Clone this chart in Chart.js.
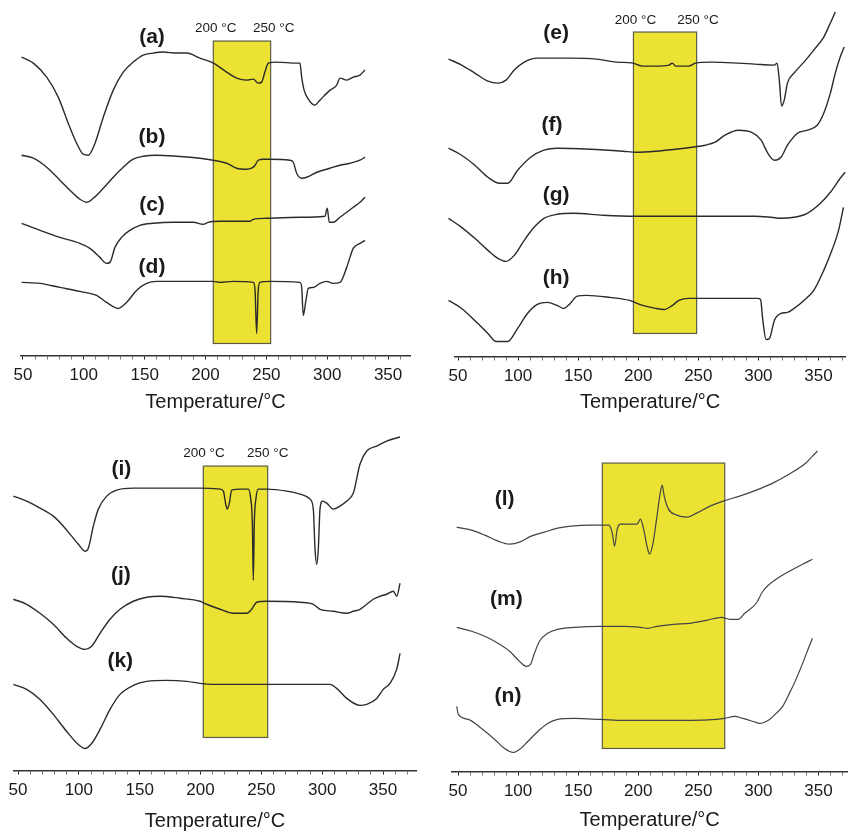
<!DOCTYPE html>
<html>
<head>
<meta charset="utf-8">
<script src="https://cdn.jsdelivr.net/npm/chart.js@4"></script>
<style>
html,body{margin:0;padding:0;background:#fff;}
#wrap{position:relative;width:850px;height:832px;overflow:hidden;}
canvas{position:absolute;}
</style>
</head>
<body>
<div id="wrap">
<canvas id="p1" width="425" height="416" style="left:0;top:0"></canvas>
<canvas id="p2" width="425" height="416" style="left:425px;top:0"></canvas>
<canvas id="p3" width="425" height="416" style="left:0;top:416px"></canvas>
<canvas id="p4" width="425" height="416" style="left:425px;top:416px"></canvas>
</div>
<script>
// ---- Data: [temperature °C, heat-flow (arbitrary, offset) ] ----
// Panel 1
const curveA = [[48.9,298],[58.5,292],[69.5,278],[79,258],[87.2,232],[94.1,212],[99.5,201],[103.7,200],[109.2,212],[116,238],[124.2,265],[132.4,283],[140.6,293],[148.8,300],[157.1,302],[165.3,303],[176.3,302],[184.5,302],[195.4,297],[206.4,292],[217.4,283],[225.6,277],[233.8,275],[239.3,276],[243.3,272],[246.1,273],[248.8,283],[251.6,292],[258.5,293],[274.9,292],[277.6,292],[279,278],[281,265],[284.4,256],[289.9,250],[294,255],[302.3,265],[307.8,270],[310.5,277],[316,275],[321.4,278],[326.9,280],[331,285]];
const curveB = [[48.9,200],[58.5,197],[69.5,188],[80.4,175],[88.6,165],[96.8,156],[102.3,153],[107.8,157],[116,167],[124.2,178],[132.4,188],[140.6,196],[148.8,199],[159.8,200],[176.3,199],[195.4,197],[206.4,195],[217.4,192],[225.6,187],[233.8,186],[237.9,187],[240.7,190],[243.3,195],[247.4,196],[253,196],[269.3,195],[272.1,193],[274.9,182],[279,177],[283.1,178],[291.4,183],[302.3,187],[310.5,190],[318.8,192],[326.9,195],[331,198]];
const curveC = [[48.9,132],[64,125],[80.4,118],[96.8,112],[105,107],[113.3,98],[118.7,92],[121.5,93],[125.6,108],[131,118],[137.9,125],[146.1,130],[157.1,132],[173.5,133],[189.9,133],[198.1,131],[202.2,133],[211.8,134],[228.3,134],[236.5,134],[239.3,136],[250.2,137],[277.6,138],[298.1,139],[300,147],[301.7,133],[304.9,133],[310.5,138],[321.4,148],[326.9,153],[331,158]];
const curveD = [[48.9,73],[64,72],[80.4,68],[96.8,64],[110.5,60],[118.7,53],[128.3,47],[135.1,53],[143.3,65],[151.5,72],[159.8,74],[184.5,74],[206.4,74],[211.8,73],[222.8,74],[239.3,73],[240.7,65],[242,22],[243.3,65],[244.7,73],[253,74],[277.6,73],[279,68],[280.3,40],[282.5,55],[284.4,67],[288.6,68],[294,72],[299.5,74],[304.9,72],[310.5,73],[316,88],[321.4,107],[326.9,112],[331,115]];
const box1 = [206.4, 253.5, 12, 314];
const labels1 = [['(a)',156,318],['(b)',156,218],['(c)',156,150],['(d)',156,88]];
const marks1 = [['200 °C',208.4,327],['250 °C',256,327]];

// Panel 2
const curveE = [[42.1,297],[53,291],[64,283],[74.9,275],[83.2,273],[90,276],[96.8,286],[105.1,294],[116,298],[127,298],[143.4,298],[165.3,297],[181.8,294],[195.5,293],[203.7,290],[214.6,290],[225.6,291],[228.4,293],[231.1,290],[242.1,290],[247.5,293],[261.2,294],[283.2,293],[296.8,292],[313.3,291],[315.5,293],[317.4,276],[319.3,250],[321.5,256],[324.2,273],[329.7,283],[337.9,294],[346.1,306],[354.4,319],[359.9,333],[364,344]];
const curveF = [[42.1,208],[53,201],[64,191],[74.9,179],[84.5,173],[91.4,173],[99.6,186],[110.5,199],[121.5,206],[132.5,208],[159.9,207],[187.3,205],[198.2,204],[214.6,205],[231.1,207],[244.8,209],[255.8,211],[264,214],[272.2,221],[283.2,226],[294.1,224],[302.3,216],[307.8,203],[313.3,196],[318.8,199],[324.2,211],[332.5,223],[340.7,226],[348.9,231],[354.4,243],[359.9,263],[364,283],[368.1,299],[371.4,309]];
const curveG = [[42.1,138],[53,129],[64,118],[74.9,106],[83.2,98],[90,95],[96.8,101],[105.1,116],[113.3,129],[121.5,138],[132.5,142],[146.2,143],[170.8,141],[198.2,140],[242.1,140],[269.4,140],[296.8,140],[310.5,139],[318.8,138],[329.7,139],[340.7,143],[351.6,153],[359.9,164],[368.1,178],[372.2,184]];
const curveH = [[42.1,56],[53,48],[64,36],[74.9,23],[81.8,15],[91.4,15],[99.6,28],[107.8,43],[116,52],[124.2,54],[132.5,51],[137.9,48],[143.4,53],[148.9,60],[157.1,61],[176.3,59],[192.8,56],[203.7,51],[214.6,48],[221.5,47],[228.4,51],[233.8,56],[242.1,58],[269.4,58],[299.6,58],[301.8,57],[303.7,36],[306.4,17],[309.2,18],[313.3,36],[318.8,43],[324.2,44],[329.7,48],[337.9,56],[346.1,66],[354.4,86],[361.2,106],[366.7,126],[370.8,149]];
const box2 = [196, 248.6, 23, 324];
const labels2 = [['(e)',131.6,323],['(f)',128.3,231],['(g)',131.6,161],['(h)',131.6,78]];
const marks2 = [['200 °C',197.7,336],['250 °C',249.7,336]];

// Panel 3
const curveI = [[46.2,273],[57.1,268],[68.1,261],[79,253],[87.3,243],[94.1,233],[99.6,225],[105.1,218],[107.8,221],[111.9,243],[116,260],[122.9,273],[131.1,279],[144.8,281],[158.5,281],[177.7,281],[199.6,281],[216,280],[218.8,278],[220.7,265],[222,260],[223.7,266],[225.6,279],[232.5,280],[239.3,280],[241.2,271],[242.6,246],[243.4,189],[244.2,246],[245.6,271],[247.5,280],[254.4,280],[270.8,278],[281.8,275],[290,270],[292.7,260],[294.1,220],[295.5,205],[296.8,220],[298.2,260],[300.4,268],[303.7,266],[309.2,260],[314.6,263],[320.2,268],[325.6,276],[331.1,305],[336.6,318],[344.8,323],[353,328],[364,332]];
const curveJ = [[46.2,170],[57.1,165],[68.1,156],[79,145],[90,131],[98.2,123],[105.1,120],[110.5,123],[117.4,136],[125.6,150],[133.8,160],[144.8,168],[155.8,172],[166.7,173],[183.1,171],[199.6,168],[205.1,165],[216,160],[227,156],[238,156],[242,160],[246.2,167],[254.4,168],[281.8,167],[292.7,165],[298.2,160],[309.2,158],[320.2,156],[325.6,158],[331.1,160],[336.6,165],[342,170],[347.5,173],[353,175],[358.5,178],[361.2,173],[364,186]];
const curveK = [[46.2,85],[57.1,80],[68.1,70],[79,55],[90,38],[99.6,25],[105.1,21],[110.5,26],[117.4,40],[125.6,60],[133.8,75],[144.8,84],[155.8,88],[172.2,89],[188.6,88],[199.6,86],[210.5,85],[227,85],[254.4,85],[281.8,85],[306.4,85],[311.9,81],[320.2,71],[331.1,64],[336.6,65],[344.8,71],[350.2,80],[355.7,86],[361.2,100],[364,116]];
const box3 = [202.3, 255.2, 32, 303];
const labels3 = [['(i)',135,300],['(j)',134.5,194],['(k)',134,108]];
const marks3 = [['200 °C',202.9,316],['250 °C',255.2,316]];

// Panel 4
const curveL = [[48.9,245],[61.3,242],[72.3,237],[83.3,231],[93,228],[101.2,230],[110.9,236],[121.9,240],[132.9,244],[143.9,246],[160.5,247],[175.6,247],[178.4,239],[180.3,226],[182.5,243],[185.3,248],[199,248],[201.8,253],[204.5,243],[207.3,226],[209.5,218],[212.3,229],[215.6,256],[218.3,279],[220,287],[221.6,276],[225.2,263],[232.1,257],[240.4,255],[248.6,259],[259.7,266],[270.7,271],[284.4,276],[298.2,282],[312,289],[325.8,298],[339.5,309],[345,316],[349.2,321]];
const curveM = [[48.9,145],[61.3,141],[72.3,136],[83.3,129],[93,121],[101.2,111],[106.8,106],[110.3,108],[113.6,119],[117.8,131],[124.6,139],[132.9,143],[146.7,145],[168.8,146],[188,146],[201.8,145],[207.9,144],[215.6,146],[229.3,148],[243.1,149],[256.9,152],[269.3,155],[276.2,153],[283.1,153],[288.6,159],[298.2,169],[303.7,181],[314.7,193],[325.8,201],[336.8,208],[345,213]];
const curveN = [[48.9,66],[50.3,58],[58.5,53],[69.6,44],[80.6,33],[88.8,24],[95.7,20],[101.2,23],[108.1,31],[116.4,41],[124.6,49],[132.9,53],[146.7,54],[168.8,53],[188,52],[215.6,52],[243.1,52],[265.1,53],[272,54],[280.3,56],[287.2,54],[298.2,50],[301,49],[309.3,53],[314.7,59],[320.2,66],[325.8,79],[331.3,93],[336.8,109],[342.3,126],[345,134]];
const box4 = [170.1, 272, 24, 309];
const labels4 = [['(l)',88.8,273],['(m)',90.2,173],['(n)',91.6,76]];
const marks4 = [];

// Axis ticks (every 10 °C, labelled every 50 °C)
const tickValues = [50,60,70,80,90,100,110,120,130,140,150,160,170,180,190,200,210,220,230,240,250,260,270,280,290,300,310,320,330,340,350,360,370];
const tickLabelValues = [50,100,150,200,250,300,350];
const axisTitle = 'Temperature/°C';

const FONT = '"Liberation Sans", Arial, Helvetica, sans-serif';

const annotate = {
  id: 'annotate',
  beforeDatasetsDraw(chart, args, opts) {
    const {ctx} = chart; const x = chart.scales.x, y = chart.scales.y;
    const b = opts.box;
    const x0 = x.getPixelForValue(b[0]), x1 = x.getPixelForValue(b[1]);
    const yTop = y.getPixelForValue(b[3]), yBot = y.getPixelForValue(b[2]);
    ctx.save();
    ctx.fillStyle = '#ece233';
    ctx.fillRect(x0, yTop, x1 - x0, yBot - yTop);
    ctx.strokeStyle = '#5e5c48';
    ctx.lineWidth = 1.2;
    ctx.strokeRect(x0, yTop, x1 - x0, yBot - yTop);
    ctx.restore();
  },
  afterDatasetsDraw(chart, args, opts) {
    const {ctx} = chart; const x = chart.scales.x, y = chart.scales.y;
    ctx.save();
    ctx.textAlign = 'center'; ctx.textBaseline = 'middle';
    ctx.fillStyle = '#1a1a1a';
    ctx.font = 'bold 21px ' + FONT;
    opts.labels.forEach(l => ctx.fillText(l[0], x.getPixelForValue(l[1]), y.getPixelForValue(l[2])));
    ctx.font = '13.5px ' + FONT;
    opts.marks.forEach(l => ctx.fillText(l[0], x.getPixelForValue(l[1]), y.getPixelForValue(l[2])));
    ctx.restore();
  }
};

function makePanel(id, curves, cfg) {
  const datasets = curves.map(c => ({
    data: c.map(p => ({x: p[0], y: p[1]})),
    borderColor: cfg.lineColor,
    borderWidth: cfg.lineWidth,
    pointRadius: 0,
    fill: false,
    cubicInterpolationMode: 'monotone',
    clip: false
  }));
  new Chart(document.getElementById(id), {
    type: 'line',
    data: {datasets},
    plugins: [annotate],
    options: {
      responsive: false,
      animation: false,
      devicePixelRatio: 1,
      events: [],
      layout: {padding: {left: cfg.padL, right: cfg.padR, top: 0, bottom: cfg.padB}},
      plugins: {
        legend: {display: false},
        tooltip: {enabled: false},
        annotate: {box: cfg.box, labels: cfg.labels, marks: cfg.marks}
      },
      scales: {
        x: {
          type: 'linear', min: cfg.xMin, max: cfg.xMax,
          afterBuildTicks: s => { s.ticks = tickValues.filter(v => v >= cfg.xMin && v <= cfg.xMax).map(v => ({value: v})); },
          grid: {display: true, drawOnChartArea: false, drawTicks: true, tickLength: 4,
                 tickColor: c => tickLabelValues.includes(c.tick && c.tick.value) ? '#222' : '#777', tickWidth: 1},
          border: {display: true, color: '#333', width: 1.5},
          ticks: {autoSkip: false, maxRotation: 0, minRotation: 0, padding: 7.5, color: '#1a1a1a',
                  font: {family: FONT, size: 17, lineHeight: 1.0},
                  callback: v => tickLabelValues.includes(v) ? String(v) : ''},
          title: {display: true, text: axisTitle, color: '#1a1a1a',
                  font: {family: FONT, size: 20, lineHeight: 1.0}, padding: {top: cfg.titleTop, bottom: 0}}
        },
        y: {type: 'linear', display: false, min: cfg.yMin, max: cfg.yMax}
      }
    }
  });
}

makePanel('p1', [curveA, curveB, curveC, curveD], {
  xMin: 48.4, xMax: 368, yMin: 0, yMax: 355, padL: 21, padR: 15, padB: 4, titleTop: 0.5,
  box: box1, labels: labels1, marks: marks1, lineColor: '#2b2b2b', lineWidth: 1.4});
makePanel('p2', [curveE, curveF, curveG, curveH], {
  xMin: 47.5, xMax: 372.2, yMin: 0, yMax: 356, padL: 30, padR: 0, padB: 3.5, titleTop: 0,
  box: box2, labels: labels2, marks: marks2, lineColor: '#2b2b2b', lineWidth: 1.4});
makePanel('p3', [curveI, curveJ, curveK], {
  xMin: 46.7, xMax: 377.1, yMin: -1, yMax: 353, padL: 14, padR: 9, padB: 1, titleTop: 4.5,
  box: box3, labels: labels3, marks: marks3, lineColor: '#2b2b2b', lineWidth: 1.4});
makePanel('p4', [curveL, curveM, curveN], {
  xMin: 45, xMax: 374, yMin: 1, yMax: 356, padL: 27, padR: 0, padB: 2, titleTop: 2.5,
  box: box4, labels: labels4, marks: marks4, lineColor: '#444', lineWidth: 1.2});
</script>
</body>
</html>
